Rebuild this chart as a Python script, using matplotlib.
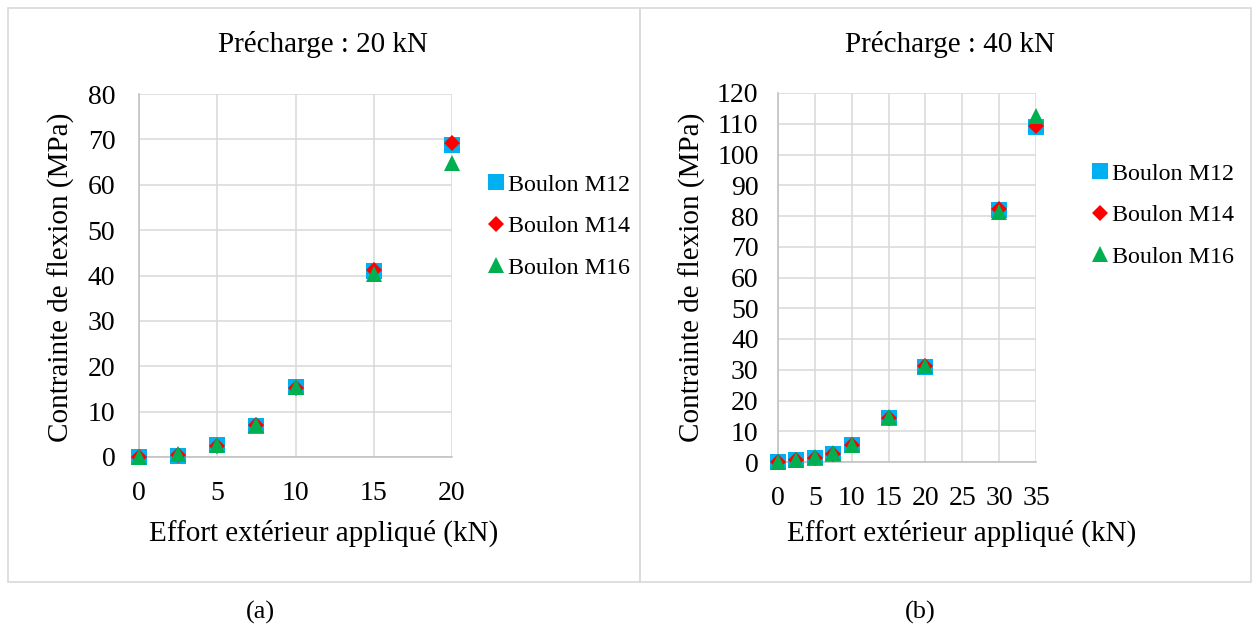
import matplotlib
matplotlib.use("Agg")
import matplotlib.pyplot as plt
from matplotlib.patches import Rectangle

plt.rcParams['font.family'] = ['Liberation Serif', 'DejaVu Serif']

# Précharge 20 kN
x_20 = [0, 2.5, 5, 7.5, 10, 15, 20]
m12_20 = [0, 0.3, 2.6, 6.9, 15.4, 41.0, 68.8]
m14_20 = [0, 0.5, 2.5, 7.0, 15.3, 41.2, 69.1]
m16_20 = [0, 0.6, 2.6, 7.0, 15.4, 40.3, 64.8]

# Précharge 40 kN
x_40 = [0, 2.5, 5, 7.5, 10, 15, 20, 30, 35]
m12_40 = [0, 0.5, 1.3, 2.5, 5.4, 14.2, 31.0, 81.8, 108.9]
m14_40 = [0, 0.6, 1.4, 2.7, 5.4, 14.4, 31.2, 82.4, 109.3]
m16_40 = [0, 0.65, 1.5, 2.8, 5.4, 14.5, 31.3, 81.2, 112.4]

series_names = ["Boulon M12", "Boulon M14", "Boulon M16"]
colors = ["#00B0F0", "#FF0000", "#00B050"]
markers = ["s", "D", "^"]
msizes = [11, 7.8, 11.3]

W, H = 1255, 628
fig = plt.figure(figsize=(W / 100, H / 100), dpi=100)


def fx(px):
    return px / W


def fy(py):
    return 1 - py / H


def draw_panel(rect, x, ys, xmax, ymax, ystep, title, title_x, xl_coords, yl_coords, ypad, leg_xy):
    ax = fig.add_axes(rect)
    for y, name, c, m, ms in zip(ys, series_names, colors, markers, msizes):
        ax.plot(x, y, linestyle='none', marker=m, color=c, markersize=ms,
                markeredgewidth=0, label=name, clip_on=False, zorder=3)
    ax.set_xlim(0, xmax)
    ax.set_ylim(0, ymax)
    ax.set_xticks(range(0, xmax + 1, 5))
    ax.set_yticks(range(0, ymax + 1, ystep))
    ax.grid(True, color='#d9d9d9', linewidth=1.1)
    ax.set_axisbelow(True)
    for s in ['top', 'right']:
        ax.spines[s].set_visible(False)
    for s in ['left', 'bottom']:
        ax.spines[s].set_color('#bfbfbf')
        ax.spines[s].set_linewidth(1.1)
    ax.tick_params(axis='both', length=0, labelsize=20, colors='black')
    ax.tick_params(axis='y', pad=ypad)
    ax.tick_params(axis='x', pad=17)
    ax.set_xlabel("Effort extérieur appliqué (kN)", fontsize=21, va='center')
    ax.xaxis.set_label_coords(*xl_coords)
    ax.set_ylabel("Contrainte de flexion (MPa)", fontsize=21, va='center')
    ax.yaxis.set_label_coords(*yl_coords)
    fig.text(fx(title_x), fy(45), title, fontsize=21, ha='center', va='center')
    ax.legend(loc='upper left', bbox_to_anchor=leg_xy, bbox_transform=fig.transFigure,
              frameon=False, fontsize=17.3, handlelength=0.65, handletextpad=0.2,
              labelspacing=0.82, borderpad=0, borderaxespad=0)
    return ax


draw_panel([fx(139), fy(457), fx(452) - fx(139), fy(94) - fy(457)],
           x_20, [m12_20, m14_20, m16_20], 20, 80, 10,
           "Précharge : 20 kN", 323,
           ((324 - 139) / 313, (457 - 533) / 363),
           ((61 - 139) / 313, 0.496), 17,
           (fx(488), fy(174)))

draw_panel([fx(778), fy(462), fx(1036) - fx(778), fy(93) - fy(462)],
           x_40, [m12_40, m14_40, m16_40], 35, 120, 10,
           "Précharge : 40 kN", 950,
           ((962 - 778) / 258, (462 - 533) / 369),
           ((692 - 778) / 258, 0.501), 14,
           (fx(1092), fy(163)))

# panel frames
fig.add_artist(Rectangle((fx(8), fy(582)), fx(640) - fx(8), fy(8) - fy(582),
                         transform=fig.transFigure, fill=False, ec='#d9d9d9', lw=1.2))
fig.add_artist(Rectangle((fx(640), fy(582)), fx(1251) - fx(640), fy(8) - fy(582),
                         transform=fig.transFigure, fill=False, ec='#d9d9d9', lw=1.2))

fig.text(fx(260), fy(612), "(a)", fontsize=19, ha='center', va='center')
fig.text(fx(920), fy(612), "(b)", fontsize=19, ha='center', va='center')

fig.savefig("out.png", dpi=100)
